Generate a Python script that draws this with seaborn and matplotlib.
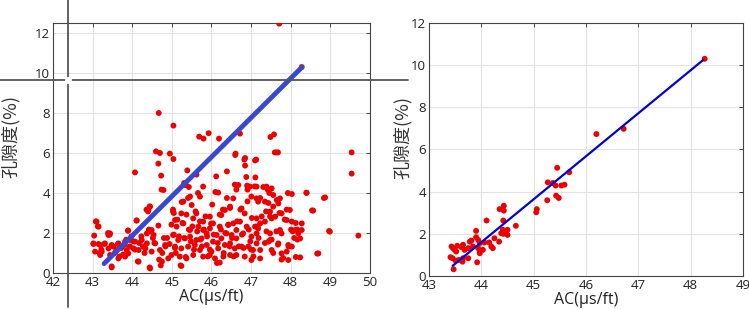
import numpy as np
import pandas as pd
import matplotlib
matplotlib.use('Agg')
import matplotlib.pyplot as plt
import seaborn as sns
from matplotlib.lines import Line2D

# 左图：全部样本 (AC, 孔隙度)
all_ac = [
    43.08, 43.13, 43.04, 43.02, 43.15, 43.18, 43.22, 43.29, 43.39, 43.43, 43.48, 43.52, 43.56, 43.60,
    43.64, 43.68, 43.72, 43.77, 43.81, 43.85, 43.89, 43.94, 43.98, 44.03, 44.07, 44.07, 44.11, 44.14,
    44.18, 44.23, 44.27, 44.31, 44.36, 44.40, 44.44, 44.44, 44.42, 44.47, 44.52, 44.56, 44.60, 44.66,
    44.70, 44.73, 44.74, 44.66, 44.68, 44.72, 44.76, 44.80, 44.84, 44.88, 44.94, 44.99, 45.03, 45.05,
    45.05, 45.08, 45.10, 45.14, 45.18, 45.22, 45.25, 45.27, 45.31, 45.31, 45.35, 45.35, 45.37, 45.39,
    45.41, 45.43, 45.43, 45.48, 45.52, 45.56, 45.60, 45.62, 45.64, 45.66, 45.71, 45.72, 45.76, 45.81,
    45.85, 45.89, 45.91, 45.96, 45.99, 46.02, 46.06, 46.10, 46.12, 46.14, 46.16, 46.21, 46.24, 46.29,
    46.31, 46.35, 46.39, 46.39, 46.43, 46.46, 46.47, 46.52, 46.56, 46.59, 46.61, 46.63, 46.65, 46.69,
    46.73, 46.77, 46.81, 46.85, 46.85, 46.88, 46.90, 46.91, 46.91, 46.94, 46.98, 47.00, 47.02, 47.06,
    47.09, 47.11, 47.13, 47.15, 47.19, 47.23, 47.27, 47.31, 47.35, 47.38, 47.39, 47.42, 47.44, 47.46,
    47.48, 47.52, 47.56, 47.60, 47.64, 47.68, 47.64, 47.68, 47.72, 47.77, 47.81, 47.85, 47.90, 47.93,
    47.95, 48.01, 48.05, 48.09, 48.13, 48.17, 48.13, 48.17, 48.40, 48.54, 48.67, 48.84, 48.97, 49.54,
    49.54, 49.71,
    47.71, 48.28, 44.67, 45.04, 45.69, 45.80, 45.93, 46.19, 46.72, 47.49, 47.58, 44.95, 45.04, 46.60,
    46.83, 47.10,
    45.33, 45.46, 45.71, 45.79, 45.29, 45.50, 46.17, 46.55, 46.68, 46.97, 47.01, 47.14, 46.34, 46.47,
    46.76, 46.84, 46.25, 45.03, 45.08, 45.24, 45.62, 45.54, 45.79, 45.96, 46.04, 45.12, 45.29, 45.46,
    45.67, 45.79, 45.88, 45.96, 46.13, 46.21, 46.42, 46.55, 46.63, 46.72, 46.89, 47.10, 45.03, 45.16,
    45.33, 45.46, 45.62, 45.75, 46.04, 46.25, 46.38, 46.51, 46.63, 46.80, 47.01, 47.14, 45.08, 45.24,
    45.41, 45.58, 45.71, 45.88, 46.00, 46.17, 46.34, 46.47, 46.59, 46.76, 46.93, 47.05, 44.99, 45.20,
    45.37, 45.54, 45.79, 45.96, 46.09, 46.30, 46.47, 46.63, 46.84, 45.24, 46.21, 47.01,
    44.79, 44.45, 44.41, 43.10, 43.15, 44.11, 43.44, 43.40, 43.90, 44.49, 44.37, 44.54, 43.02, 43.19,
    43.31, 43.48, 43.65, 43.82, 43.95, 44.07, 44.24, 44.37, 44.58, 44.83, 43.06, 43.23, 43.40, 43.61,
    43.74, 43.86, 44.03, 44.16, 44.33, 44.49, 44.70, 43.19, 43.44, 43.65, 43.82, 44.16, 44.45, 43.48,
    44.75, 44.91, 43.90,
    47.14, 47.39, 47.52, 47.18, 47.35, 47.56, 47.65, 47.69, 47.73, 48.03, 48.40, 48.87, 47.48, 47.56,
    47.61, 47.77, 47.98, 48.57, 47.14, 47.23, 47.35, 47.52, 47.90, 48.03, 48.28, 47.18, 47.48, 47.73,
    47.77, 48.11, 48.19, 48.28, 48.99, 48.24, 47.14, 47.44, 47.48, 47.69, 47.94, 48.03, 47.23, 47.52,
    47.77, 47.90, 48.70, 47.94, 48.24, 47.23,
]
all_por = [
    2.58, 2.33, 1.87, 1.45, 1.45, 1.00, 1.17, 1.45, 2.00, 1.92, 0.33, 1.33, 1.00, 1.17,
    1.45, 0.83, 1.25, 0.92, 1.42, 1.67, 2.12, 1.33, 1.83, 1.58, 5.03, 1.17, 2.63, 0.58,
    1.50, 1.83, 1.33, 1.00, 3.17, 3.08, 3.33, 0.28, 2.17, 2.08, 1.75, 1.50, 6.08, 5.47,
    6.00, 4.87, 4.17, 2.37, 0.67, 0.38, 1.00, 1.75, 1.33, 1.75, 1.45, 2.42, 3.17, 3.00,
    1.92, 1.25, 1.00, 2.67, 1.83, 0.38, 3.55, 2.50, 4.50, 1.75, 0.80, 4.42, 2.92, 5.13,
    3.75, 4.30, 2.17, 1.58, 2.33, 1.17, 3.08, 4.92, 2.08, 4.00, 2.58, 1.67, 1.33, 2.17,
    2.83, 1.83, 0.83, 1.17, 2.47, 3.42, 1.92, 4.05, 4.83, 0.50, 1.50, 2.92, 2.17, 3.17,
    1.00, 2.00, 5.08, 3.75, 2.42, 1.33, 3.25, 1.75, 0.83, 4.42, 5.97, 4.17, 2.58, 1.33,
    3.17, 1.92, 1.25, 5.37, 5.75, 4.80, 4.37, 4.17, 3.58, 2.17, 1.58, 1.17, 2.75, 0.83,
    4.33, 4.78, 5.67, 2.33, 1.75, 3.75, 2.83, 4.30, 1.50, 3.08, 2.08, 4.17, 3.50, 4.00,
    2.83, 1.67, 1.00, 6.03, 6.03, 6.03, 2.08, 1.42, 3.00, 0.67, 0.75, 2.67, 3.17, 4.00,
    1.33, 2.17, 2.08, 1.75, 2.50, 1.67, 0.80, 2.17, 4.00, 3.13, 0.97, 3.75, 2.10, 6.03,
    4.97, 1.87,
    12.47, 10.30, 8.00, 7.37, 6.82, 6.72, 6.99, 6.72, 6.97, 6.80, 6.93, 5.97, 5.70, 5.90,
    5.67, 5.63,
    4.40, 3.82, 3.82, 4.32, 3.57, 3.40, 4.02, 3.73, 4.40, 4.32, 3.82, 3.73, 3.15, 3.32,
    3.23, 2.98, 2.90, 3.07, 2.65, 2.98, 2.98, 2.73, 2.57, 2.82, 2.48, 2.32, 2.48, 2.15,
    2.32, 2.15, 1.98, 2.23, 1.90, 2.32, 2.40, 2.48, 2.15, 2.57, 2.32, 2.32, 1.90, 1.65,
    1.73, 1.82, 1.65, 1.73, 1.57, 1.73, 1.98, 1.90, 1.73, 1.98, 1.82, 1.98, 1.32, 1.23,
    1.32, 1.40, 1.15, 1.40, 1.07, 1.23, 1.40, 1.48, 1.23, 1.32, 1.32, 1.15, 0.90, 0.82,
    0.73, 0.90, 0.82, 0.90, 0.73, 0.82, 0.90, 0.90, 0.82, 0.35, 0.52, 0.65,
    4.15, 3.32, 3.15, 2.57, 2.32, 2.62, 1.98, 1.90, 2.12, 2.15, 1.98, 1.90, 1.48, 1.40,
    1.48, 1.40, 1.48, 1.57, 1.65, 1.57, 1.65, 1.48, 1.48, 1.40, 1.07, 1.07, 1.23, 1.15,
    1.32, 1.15, 1.23, 1.15, 1.23, 1.07, 1.15, 0.90, 0.90, 0.73, 0.82, 0.57, 0.23, 0.28,
    0.57, 0.73, 0.98,
    4.32, 4.32, 4.23, 3.57, 3.57, 3.90, 3.65, 3.48, 3.73, 3.95, 4.02, 3.78, 3.07, 3.32,
    2.82, 2.98, 3.15, 3.12, 2.73, 2.48, 2.57, 2.73, 2.65, 2.57, 2.48, 2.23, 1.98, 2.15,
    1.98, 2.15, 1.98, 2.15, 2.07, 1.73, 1.48, 1.57, 1.65, 1.48, 1.40, 1.32, 1.15, 1.15,
    0.98, 1.07, 0.98, 0.65, 0.78, 0.73,
]

# 右图：筛选后的样本
sel_ac = [
    48.27, 46.20, 46.72, 45.45, 45.68, 45.27, 45.37, 45.42, 45.53, 45.59, 45.43, 45.48, 45.26, 45.06,
    45.05, 44.43, 44.43, 44.35, 44.10, 44.42, 44.66, 44.41, 44.46, 44.50, 44.42, 44.50, 44.38, 43.90,
    43.90, 43.94, 43.97, 43.81, 44.06, 44.25, 44.34, 44.19, 44.22, 44.15, 44.03, 43.97, 43.94, 43.84,
    43.75, 43.68, 43.62, 43.78, 43.65, 43.54, 43.49, 43.43, 43.46, 43.52, 43.41, 43.45, 43.51, 43.64,
    43.65, 43.75, 43.92, 43.97, 43.47, 43.57,
]
sel_por = [
    10.30, 6.73, 6.98, 5.13, 4.92, 4.44, 4.41, 4.29, 4.29, 4.33, 3.81, 3.70, 3.59, 3.17,
    3.02, 3.33, 3.10, 3.17, 2.63, 2.63, 2.38, 2.19, 2.11, 2.19, 2.00, 1.95, 2.03, 2.14,
    1.84, 1.71, 1.56, 1.68, 1.59, 1.79, 1.63, 1.40, 1.32, 1.59, 1.24, 1.16, 1.32, 1.40,
    1.32, 1.24, 1.37, 1.63, 1.48, 1.43, 1.24, 1.40, 1.32, 1.16, 0.89, 0.84, 0.73, 0.68,
    0.84, 0.84, 0.65, 1.08, 0.32, 0.76,
]

# 拟合线端点
fit_left_x = [43.29, 48.28]
fit_left_y = [0.47, 10.28]
fit_right_x = [43.45, 48.24]
fit_right_y = [0.48, 10.24]

sns.set_style('whitegrid')
plt.rcParams['font.family'] = ['Open Sans', 'Noto Sans CJK SC', 'DejaVu Sans']

fig = plt.figure(figsize=(7.49, 3.09), dpi=100)
ax1 = fig.add_axes([0.0708, 0.1165, 0.423, 0.809])
ax2 = fig.add_axes([0.5728, 0.1068, 0.419, 0.819])

df_all = pd.DataFrame({'AC': all_ac, 'por': all_por})
df_sel = pd.DataFrame({'AC': sel_ac, 'por': sel_por})

sns.scatterplot(data=df_all, x='AC', y='por', ax=ax1, color='#ee0000', s=18, edgecolor='none', zorder=3)
sns.lineplot(x=fit_left_x, y=fit_left_y, ax=ax1, color='#3848d0', linewidth=3.5, zorder=4)

sns.scatterplot(data=df_sel, x='AC', y='por', ax=ax2, color='#ee0000', s=18, edgecolor='none', zorder=3)
sns.lineplot(x=fit_right_x, y=fit_right_y, ax=ax2, color='#0000dd', linewidth=1.6, zorder=4)

for ax, xlim, ylim, xt, lab_x in [(ax1, (42, 50), (0, 12.5), range(42, 51), -0.104),
                                  (ax2, (43, 49), (0, 12), range(43, 50), -0.054)]:
    ax.set_xlim(*xlim)
    ax.set_ylim(*ylim)
    ax.set_xticks(list(xt))
    ax.set_yticks([0, 2, 4, 6, 8, 10, 12])
    ax.grid(True, color='#e3e3e3', linewidth=0.8)
    for sp in ax.spines.values():
        sp.set_color('#444444')
        sp.set_linewidth(0.8)
        sp.set_visible(True)
    ax.tick_params(direction='in', length=3, width=0.7, color='#444444',
                   top=True, right=True, labelsize=9.5, pad=2, labelcolor='#222222')
    ax.set_xlabel('AC(μs/ft)', fontsize=11.5, labelpad=0, color='#222222')
    ax.set_ylabel('孔隙度(%)', fontsize=13, color='#333333',
                  family=['Noto Sans CJK SC', 'DejaVu Sans'])
    ax.yaxis.set_label_coords(lab_x, 0.548)

# 左图上的十字线
fig.add_artist(Line2D([68 / 749, 68 / 749], [1 - 0 / 309, 1 - 307 / 309],
                      color='#555555', linewidth=1.3, transform=fig.transFigure))
fig.add_artist(Line2D([0, 408 / 749], [1 - 80 / 309, 1 - 80 / 309],
                      color='#555555', linewidth=1.3, transform=fig.transFigure))
fig.add_artist(Line2D([68 / 749], [1 - 80 / 309], marker='o', markersize=4,
                      color='white', linestyle='none', transform=fig.transFigure))

fig.savefig('out.png', dpi=100)
